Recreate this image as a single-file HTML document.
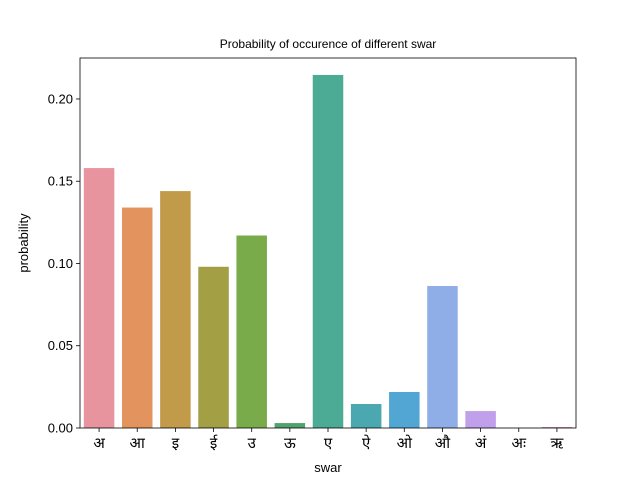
<!DOCTYPE html>
<html><head><meta charset="utf-8"><style>
body{margin:0;background:#fff;}
svg{display:block;font-family:"Liberation Sans","DejaVu Sans",sans-serif;}
</style></head><body>
<svg id="chart" width="640" height="480">
<text x="328" y="48" font-size="12" text-anchor="middle">Probability of occurence of different swar</text>
<g id="bars"></g>
<g id="yticks"></g>
<g id="xticks"></g>
<rect x="80" y="58" width="496" height="370" fill="none" stroke="#000" stroke-width="0.8"/>
<text x="328" y="472" font-size="13" text-anchor="middle">swar</text>
<text transform="translate(28,243) rotate(-90)" font-size="13" text-anchor="middle">probability</text>
</svg>
<script>
const categories=["अ","आ","इ","ई","उ","ऊ","ए","ऐ","ओ","औ","अं","अः","ऋ"];
const values=[0.158,0.134,0.144,0.098,0.117,0.003,0.2146,0.0146,0.0219,0.0863,0.0103,0,0.0006];
const colors=["#e8949f","#e3935e","#c29b4a","#a29f45","#7aab4a","#4fa46d","#4bab94","#4ba8b0","#52a6d3","#8faee8","#c0a0ea","#e28fe0","#e694c0"];
const yTicks=[0,0.05,0.10,0.15,0.20];
const yTickLabels=["0.00","0.05","0.10","0.15","0.20"];
const L=80,R=576,T=58,B=428,yMax=0.2249;
const ns="http://www.w3.org/2000/svg";
function y(v){return B-(v/yMax)*(B-T);}
const bw=(R-L)/categories.length;
function x(i){return L+bw*i;}
const gb=document.getElementById('bars'),gy=document.getElementById('yticks'),gx=document.getElementById('xticks');
values.forEach((v,i)=>{
 const r=document.createElementNS(ns,'rect');
 r.setAttribute('x',x(i)+bw*0.1);r.setAttribute('width',bw*0.8);
 r.setAttribute('y',y(v));r.setAttribute('height',B-y(v));r.setAttribute('fill',colors[i]);
 
 
 gb.appendChild(r);
 const t=document.createElementNS(ns,'line');
 t.setAttribute('x1',x(i)+bw/2);t.setAttribute('x2',x(i)+bw/2);t.setAttribute('y1',B);t.setAttribute('y2',B+4);t.setAttribute('stroke','#000');t.setAttribute('stroke-width','0.8');
 
 
 gx.appendChild(t);
 const l=document.createElementNS(ns,'text');
 l.setAttribute('x',x(i)+bw/2);l.setAttribute('y',B+20);l.setAttribute('font-size','15');l.setAttribute('text-anchor','middle');
 l.setAttribute('font-family','"Liberation Sans","Noto Sans CJK SC","DejaVu Sans",sans-serif');
 l.textContent=categories[i];
 
 
 gx.appendChild(l);
});
yTicks.forEach((v,i)=>{
 const t=document.createElementNS(ns,'line');
 t.setAttribute('x1',L-4);t.setAttribute('x2',L);t.setAttribute('y1',y(v));t.setAttribute('y2',y(v));t.setAttribute('stroke','#000');t.setAttribute('stroke-width','0.8');
 
 
 gy.appendChild(t);
 const l=document.createElementNS(ns,'text');
 l.setAttribute('x',L-7);l.setAttribute('y',y(v)+4.5);l.setAttribute('font-size','13');l.setAttribute('text-anchor','end');
 l.textContent=yTickLabels[i];
 
 
 gy.appendChild(l);
});
</script>
</body></html>
